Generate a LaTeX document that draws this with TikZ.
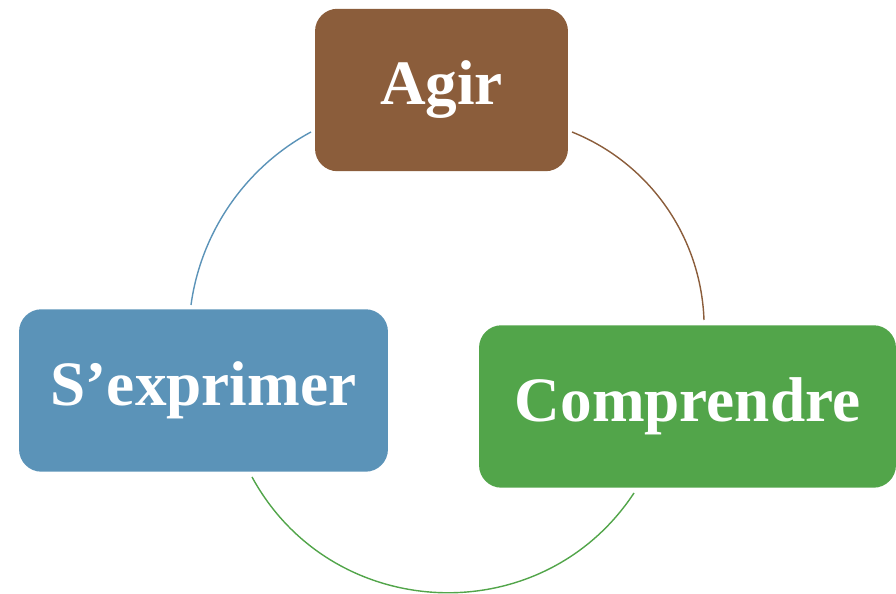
\documentclass[tikz,border=0pt]{standalone}
\usepackage{fontspec}
\setmainfont{Liberation Serif}
\definecolor{agirbrown}{HTML}{8B5D3B}
\definecolor{sexpblue}{HTML}{5B93B8}
\definecolor{comprgreen}{HTML}{52A54A}
\begin{document}
\begin{tikzpicture}[x=0.02cm, y=0.02cm, font=\bfseries\fontsize{36}{40}\selectfont,
	phase/.style={fill=#1, rounded corners=0.45cm, text=white, inner sep=0pt, minimum height=3.25cm},
	link/.style={draw=#1, line width=0.8pt}]
	\useasboundingbox (0,0) rectangle (896,594);
	\node[phase=agirbrown, minimum width=5.06cm] (agir) at (441.5,504) {Agir};
	\node[phase=sexpblue, minimum width=7.38cm] (sexp) at (203.5,203.5) {S’exprimer};
	\node[phase=comprgreen, minimum width=8.34cm] (compr) at (687.5,187.5) {Comprendre};
	\coordinate (b1) at (572,462); \coordinate (b2) at (704,274);
	\coordinate (g1) at (634,101); \coordinate (g2) at (252,117);
	\coordinate (s1) at (191,289); \coordinate (s2) at (311,462);
	\draw[link=agirbrown] (b1) to[bend left=33, looseness=0.93] (b2);
	\draw[link=comprgreen] (g1) to[bend left=59, looseness=1.12] (g2);
	\draw[link=sexpblue] (s1) to[bend left=27, looseness=0.9] (s2);
\end{tikzpicture}
\end{document}
